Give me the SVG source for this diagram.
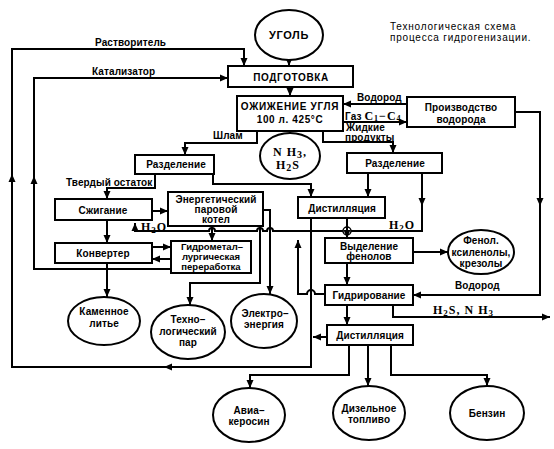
<svg xmlns="http://www.w3.org/2000/svg" width="554" height="449" viewBox="0 0 554 449">
<style>
.box{fill:#fff;stroke:#000;stroke-width:2}
.ell{fill:#fff;stroke:#000;stroke-width:2}
.conn{fill:none;stroke:#000;stroke-width:2;marker-end:url(#ah)}
text{font-family:"Liberation Sans",Arial,sans-serif;font-weight:bold;font-size:10px;fill:#000;letter-spacing:0.1px}
.c{text-anchor:middle}
.big{font-size:11px;letter-spacing:0.6px}
.sm{font-size:9.5px;letter-spacing:0}
.ser{font-family:"Liberation Serif","Times New Roman",serif;font-weight:bold;font-size:12px;letter-spacing:1px}
.title{font-weight:normal;font-size:10px;letter-spacing:0.8px}
</style>
<defs>
<marker id="ah" viewBox="0 0 8 8" refX="8" refY="4" markerWidth="8" markerHeight="8" markerUnits="userSpaceOnUse" orient="auto"><path d="M0,0.5 L8,4 L0,7.5 z" fill="#000"/></marker>
</defs>

<g id="connectors">
<path class="conn" d="M289,60 V66"/>
<path class="conn" d="M290,87 V96"/>
<path class="conn" d="M290,131 V134"/>
<path class="conn" d="M311,218 V367 H12 V49 H244 V66"/>
<path class="conn" d="M12,190 V174"/>
<path class="conn" d="M180,367 H164"/>
<path class="conn" d="M327,337 H313"/>
<path class="conn" d="M171,269 H34 V78 H228"/>
<path class="conn" d="M34,192 V176"/>
<path class="conn" d="M257,131 V143 H185 V155"/>
<path class="conn" d="M343,122 H407"/>
<path class="conn" d="M407,104 H343"/>
<path class="conn" d="M323,131 V142 H393 V153"/>
<path class="conn" d="M515,112 H540 V295 H413"/>
<path class="conn" d="M540,190 V206"/>
<path class="conn" d="M213,174 V184 H311 V197"/>
<path class="conn" d="M155,174 V188 H107 V199"/>
<path class="conn" d="M152,211 H168"/>
<path class="conn" d="M107,220 V243"/>
<path class="conn" d="M152,247 H171"/>
<path class="conn" d="M171,259 H152"/>
<path class="conn" d="M107,263 V297"/>
<path class="conn" d="M212,226 V241"/>
<path class="conn" d="M263,210 H270 V294"/>
<path class="conn" d="M260,226 V283 H190 V305"/>
<path class="conn" d="M422,173 V231 H273 A3,3 0 0 0 267,231 H263 A3,3 0 0 0 257,231 H215 A3,3 0 0 0 209,231 H135 V223"/>
<path class="conn" d="M422,190 V206"/>
<circle cx="347" cy="231" r="4" fill="#fff" stroke="#000" stroke-width="1.5"/>
<path class="conn" d="M368,173 V197"/>
<path class="conn" d="M347,218 V238"/>
<path class="conn" d="M413,252 H448"/>
<path class="conn" d="M347,263 V285"/>
<path class="conn" d="M325,294 H315 A4,4 0 0 0 307,294 H298 V240"/>
<path class="conn" d="M393,305 V317 H550"/>
<path class="conn" d="M347,305 V325"/>
<path class="conn" d="M349,345 V375 H250 V388"/>
<path class="conn" d="M368,345 V386"/>
<path class="conn" d="M391,345 V375 H487 V386"/>
</g>

<g id="labels">
<text x="95" y="46">Растворитель</text>
<text x="92" y="75">Катализатор</text>
<text x="213" y="139">Шлам</text>
<text x="357" y="101">Водород</text>
<text x="345" y="120">Газ <tspan class="ser" font-size="11">C<tspan font-size="8" dy="1">1</tspan><tspan dy="-1">−C</tspan><tspan font-size="8" dy="1">4</tspan></tspan></text>
<text x="346" y="131">Жидкие</text>
<text x="345" y="141">продукты</text>
<text x="66" y="186">Твердый остаток</text>
<text class="ser" x="141" y="231">H<tspan font-size="9" dy="2">2</tspan><tspan dy="-2">O</tspan></text>
<text class="ser" x="389" y="229">H<tspan font-size="9" dy="2">2</tspan><tspan dy="-2">O</tspan></text>
<text x="455" y="289">Водород</text>
<text class="ser" x="433" y="314">H<tspan font-size="9" dy="2">2</tspan><tspan dy="-2">S, N H</tspan><tspan font-size="9" dy="2">3</tspan></text>
<text class="title" x="390" y="30">Технологическая схема</text>
<text class="title" x="390" y="41">процесса гидрогенизации.</text>
</g>

<g id="ugol"><ellipse class="ell" cx="289" cy="35" rx="34" ry="25"/><text class="c big" x="289" y="39">УГОЛЬ</text></g>
<g id="podgotovka"><rect class="box" x="228" y="66" width="125" height="21"/><text class="c" x="291" y="81" style="letter-spacing:0.6px">ПОДГОТОВКА</text></g>
<g id="ozhizhenie"><rect class="box" x="237" y="96" width="106" height="35"/><text class="c" x="290" y="110" style="letter-spacing:0.7px">ОЖИЖЕНИЕ УГЛЯ</text><text class="c" x="290" y="123" style="letter-spacing:0.6px">100 л. 425°C</text></g>
<g id="nh3"><ellipse class="ell" cx="290" cy="156" rx="30" ry="23"/><text class="c ser" x="290" y="156" font-size="13">N H<tspan font-size="10" dy="2">3</tspan><tspan dy="-2">,</tspan></text><text class="c ser" x="288" y="169" font-size="13">H<tspan font-size="10" dy="2">2</tspan><tspan dy="-2">S</tspan></text></g>
<g id="proizvodstvo"><rect class="box" x="407" y="97" width="108" height="30"/><text class="c" x="461" y="111">Производство</text><text class="c" x="461" y="123">водорода</text></g>
<g id="razdelenie1"><rect class="box" x="135" y="155" width="79" height="19"/><text class="c" x="176" y="168">Разделение</text></g>
<g id="razdelenie2"><rect class="box" x="347" y="153" width="95" height="20"/><text class="c" x="395" y="167">Разделение</text></g>
<g id="szhiganie"><rect class="box" x="55" y="199" width="97" height="21"/><text class="c" x="103" y="214">Сжигание</text></g>
<g id="kotel"><rect class="box" x="168" y="192" width="95" height="34"/><text class="c" x="216" y="203">Энергетический</text><text class="c" x="216" y="213">паровой</text><text class="c" x="216" y="223">котел</text></g>
<g id="distill1"><rect class="box" x="298" y="197" width="87" height="21"/><text class="c" x="342" y="212">Дистилляция</text></g>
<g id="konverter"><rect class="box" x="55" y="243" width="97" height="20"/><text class="c" x="103" y="257">Конвертер</text></g>
<g id="gidromet"><rect class="box" x="171" y="241" width="80" height="32"/><text class="c sm" x="212" y="250">Гидрометал–</text><text class="c sm" x="211" y="260">лургическая</text><text class="c sm" x="211" y="270">переработка</text></g>
<g id="vydelenie"><rect class="box" x="325" y="238" width="88" height="25"/><text class="c" x="369" y="250">Выделение</text><text class="c" x="369" y="260">фенолов</text></g>
<g id="fenol"><ellipse class="ell" cx="481" cy="252" rx="33" ry="22"/><text class="c" x="481" y="244">Фенол.</text><text class="c" x="481" y="256">ксиленолы,</text><text class="c" x="481" y="267">крезолы</text></g>
<g id="gidrirovanie"><rect class="box" x="325" y="285" width="88" height="20"/><text class="c" x="369" y="299">Гидрирование</text></g>
<g id="distill2"><rect class="box" x="327" y="325" width="86" height="20"/><text class="c" x="370" y="339">Дистилляция</text></g>
<g id="kamennoe"><ellipse class="ell" cx="104" cy="321" rx="36" ry="24"/><text class="c" x="104" y="315">Каменное</text><text class="c" x="104" y="327">литье</text></g>
<g id="tekhpar"><ellipse class="ell" cx="188" cy="332" rx="37" ry="27"/><text class="c" x="188" y="323">Техно–</text><text class="c" x="188" y="335">логический</text><text class="c" x="188" y="346">пар</text></g>
<g id="elektro"><ellipse class="ell" cx="264" cy="321" rx="33" ry="27"/><text class="c" x="265" y="317">Электро–</text><text class="c" x="264" y="328">энергия</text></g>
<g id="avia"><ellipse class="ell" cx="249" cy="415" rx="36" ry="27"/><text class="c" x="249" y="414">Авиа–</text><text class="c" x="249" y="425">керосин</text></g>
<g id="dizel"><ellipse class="ell" cx="369" cy="413" rx="36" ry="27"/><text class="c" x="369" y="412">Дизельное</text><text class="c" x="369" y="423">топливо</text></g>
<g id="benzin"><ellipse class="ell" cx="487" cy="413" rx="37" ry="27"/><text class="c" x="487" y="417">Бензин</text></g>
</svg>
